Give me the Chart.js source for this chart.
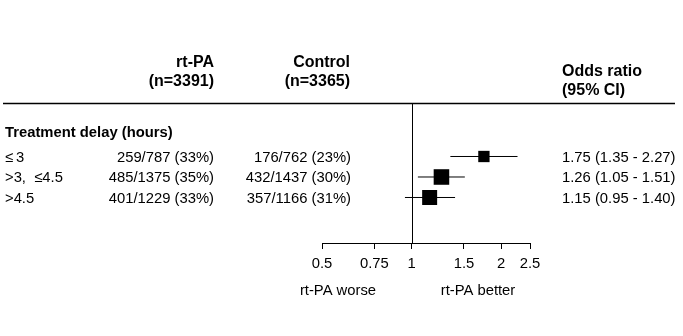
<!DOCTYPE html>
<html lang="en">
<head>
<meta charset="UTF-8">
<title>Forest plot - treatment delay</title>
<script src="https://cdn.jsdelivr.net/npm/chart.js"></script>
<style>
    body { margin: 0; background: #ffffff; }
    #wrap { width: 683px; height: 336px; }
</style>
</head>
<body>
<div id="wrap"><canvas id="forest" width="683" height="336"></canvas></div>
<script>
// --- data ---
const groups = ['\u2264\u20093', '>3,  \u22644.5', '>4.5'];
const rtpaEvents = [259, 485, 401];
const rtpaTotals = [787, 1375, 1229];
const rtpaPct = [33, 35, 33];
const ctrlEvents = [176, 432, 357];
const ctrlTotals = [762, 1437, 1166];
const ctrlPct = [23, 30, 31];
const oddsRatio = [1.75, 1.26, 1.15];
const ciLow = [1.35, 1.05, 0.95];
const ciHigh = [2.27, 1.51, 1.40];
const xTicks = [0.5, 0.75, 1, 1.5, 2, 2.5];
const rowPos = [1, 2, 3];

const FONT = '"Liberation Sans", Arial, sans-serif';

// whiskers, one line dataset per row
const ciSets = groups.map((g, i) => ({
    type: 'line',
    data: [{ x: ciLow[i], y: rowPos[i] }, { x: ciHigh[i], y: rowPos[i] }],
    borderColor: '#000',
    borderWidth: 1,
    pointRadius: 0,
    fill: false
}));

// text columns + reference line + top rule
const forestText = {
    id: 'forestText',
    beforeDatasetsDraw(chart) {
        const { ctx, chartArea, scales } = chart;
        ctx.save();
        ctx.strokeStyle = '#000';
        // top rule
        ctx.lineWidth = 1.5;
        ctx.beginPath();
        ctx.moveTo(3, chartArea.top + 0.5);
        ctx.lineTo(675, chartArea.top + 0.5);
        ctx.stroke();
        // line of no effect
        const x1 = Math.round(scales.x.getPixelForValue(1)) + 0.5;
        ctx.lineWidth = 1;
        ctx.beginPath();
        ctx.moveTo(x1, chartArea.top);
        ctx.lineTo(x1, chartArea.bottom);
        ctx.stroke();
        ctx.restore();
    },
    afterDraw(chart) {
        const { ctx, scales } = chart;
        const y = scales.y;
        ctx.save();
        ctx.fillStyle = '#000';
        ctx.textBaseline = 'alphabetic';

        // column headers
        ctx.font = 'bold 16px ' + FONT;
        ctx.textAlign = 'right';
        ctx.fillText('rt-PA', 214, 67);
        ctx.fillText('(n=3391)', 214, 86);
        ctx.fillText('Control', 350, 67);
        ctx.fillText('(n=3365)', 350, 86);
        ctx.textAlign = 'left';
        ctx.fillText('Odds ratio', 562, 76);
        ctx.fillText('(95% CI)', 562, 95);

        // subgroup header
        ctx.font = 'bold 14.8px ' + FONT;
        ctx.fillText('Treatment delay (hours)', 5, y.getPixelForValue(-0.22) + 5.3);

        // rows
        ctx.font = '14.8px ' + FONT;
        groups.forEach((g, i) => {
            const py = y.getPixelForValue(rowPos[i]) + 5.3;
            ctx.textAlign = 'left';
            ctx.fillText(g, 5, py);
            ctx.textAlign = 'right';
            ctx.fillText(rtpaEvents[i] + '/' + rtpaTotals[i] + ' (' + rtpaPct[i] + '%)', 214, py);
            ctx.fillText(ctrlEvents[i] + '/' + ctrlTotals[i] + ' (' + ctrlPct[i] + '%)', 351, py);
            ctx.textAlign = 'left';
            ctx.fillText(oddsRatio[i].toFixed(2) + ' (' + ciLow[i].toFixed(2) + ' - ' + ciHigh[i].toFixed(2) + ')', 562, py);
        });

        // direction labels under the axis
        ctx.textAlign = 'center';
        ctx.fillText('rt-PA worse', 338, 295);
        ctx.fillText('rt-PA better', 478, 295);
        ctx.restore();
    }
};

new Chart(document.getElementById('forest').getContext('2d'), {
    type: 'scatter',
    data: {
        datasets: [{
            label: 'Odds ratio',
            data: oddsRatio.map((v, i) => ({ x: v, y: rowPos[i] })),
            pointStyle: 'rect',
            pointRadius: [8, 11, 10.6],
            backgroundColor: '#000',
            borderWidth: 0
        }, ...ciSets]
    },
    options: {
        responsive: false,
        animation: false,
        layout: { padding: { left: 322, right: 153, top: 103, bottom: 53 } },
        plugins: { legend: { display: false }, tooltip: { enabled: false } },
        scales: {
            x: {
                type: 'logarithmic',
                min: 0.5,
                max: 2.5,
                bounds: 'data',
                afterBuildTicks: (scale) => { scale.ticks = xTicks.map(v => ({ value: v })); },
                afterFit: (scale) => { scale.height = 40; },
                border: { display: true, color: '#000', width: 1 },
                grid: { drawOnChartArea: false, drawTicks: true, tickLength: 6, color: '#000' },
                ticks: {
                    autoSkip: false,
                    maxRotation: 0,
                    padding: 6,
                    color: '#000',
                    font: { family: FONT, size: 14.8 },
                    callback: (v) => String(v)
                }
            },
            y: {
                type: 'linear',
                reverse: true,
                min: -1.61,
                max: 5.22,
                display: false
            }
        }
    },
    plugins: [forestText]
});
</script>
</body>
</html>
